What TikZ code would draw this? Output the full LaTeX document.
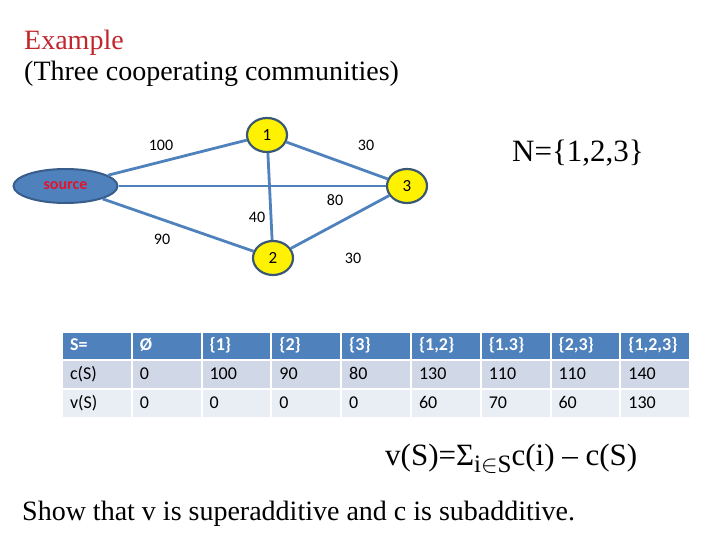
\documentclass[tikz,border=0pt]{standalone}
\usepackage{fontspec}
\setmainfont{Liberation Serif}
\newfontfamily\calfont{Carlito}
\usetikzlibrary{shapes.geometric}
\definecolor{linkblue}{HTML}{4F81BD}
\definecolor{rimblue}{HTML}{385D8A}
\definecolor{rimgrey}{HTML}{3A5874}
\definecolor{hdrblue}{HTML}{4F81BD}
\definecolor{rowa}{HTML}{D0D8E8}
\definecolor{rowb}{HTML}{E9EDF4}
\definecolor{titlered}{HTML}{C0282D}
\definecolor{srcred}{HTML}{E3132C}
\tikzset{
  comm/.style  = {ellipse, draw=rimgrey, fill=yellow, line width=2.2pt, minimum width=40pt,
                  minimum height=34pt, inner sep=0pt, font=\calfont\fontsize{17}{17}\selectfont},
  srcnode/.style={ellipse, draw=rimblue, fill=linkblue, line width=2pt, minimum width=104pt,
                  minimum height=34pt, inner sep=0pt, text=srcred,
                  font=\calfont\bfseries\fontsize{16}{16}\selectfont},
  link/.style  = {draw=linkblue, line width=2.8pt},
  wt/.style    = {font=\calfont\fontsize{16}{16}\selectfont, inner sep=0pt},
  serif/.style = {anchor=base west, inner sep=0pt, font=\fontsize{28}{28}\selectfont},
  cell/.style  = {text width=53.8pt, inner xsep=7pt, inner ysep=0pt, align=left,
                  text height=12.5pt, text depth=3.5pt, font=\calfont\fontsize{18}{18}\selectfont},
  hcell/.style = {cell, fill=hdrblue, text=white, minimum height=26pt,
                  font=\calfont\bfseries\fontsize{18}{18}\selectfont},
  acell/.style = {cell, fill=rowa, minimum height=27pt},
  bcell/.style = {cell, fill=rowb, minimum height=27pt},
}
\begin{document}
\begin{tikzpicture}[x=1pt, y=-1pt]
\useasboundingbox (0,0) rectangle (720,540);
% heading
\node[serif, text=titlered] (ttl) at (24,50) {Example};
\node[serif] (sub) at (24,81) {(Three cooperating communities)};
\node[serif, font=\fontsize{31}{31}\selectfont] (set) at (512,162) {N=\{1,2,3\}};
% network
\node[srcnode] (src) at (65.5,186) {source};
\node[comm] (n1) at (267,135) {1};
\node[comm] (n2) at (273,258) {2};
\node[comm] (n3) at (407,186) {3};
\draw[link] (src) -- (n1); \draw[link] (src) -- (n3); \draw[link] (src) -- (n2);
\draw[link] (n1) -- (n3); \draw[link] (n1) -- (n2); \draw[link] (n2) -- (n3);
\node[wt] (w1) at (161,145) {100};
\node[wt] (w2) at (366,145) {30};
\node[wt] (w3) at (335,200) {80};
\node[wt] (w4) at (257,217) {40};
\node[wt] (w5) at (162,239) {90};
\node[wt] (w6) at (353,258) {30};
% table
\foreach \t [count=\i] in {S=, Ø, \{1\}, \{2\}, \{3\}, {\{1,2\}}, \{1.3\}, {\{2,3\}}, {\{1,2,3\}}}
  \node[hcell] (h\i) at ({27.1+69.8*\i},346) {\t};
\foreach \t [count=\i] in {c(S), 0, 100, 90, 80, 130, 110, 110, 140}
  \node[acell] (c\i) at ({27.1+69.8*\i},374.5) {\t};
\foreach \t [count=\i] in {v(S), 0, 0, 0, 0, 60, 70, 60, 130}
  \node[bcell] (v\i) at ({27.1+69.8*\i},403.5) {\t};
% formula and task
\node[serif, font=\fontsize{31}{31}\selectfont] (frm) at (385,465)
  {v(S)=Σ\raisebox{-7pt}{\fontsize{25}{25}\selectfont i$\in$S}c(i) – c(S)};
\node[serif] (task) at (22,520) {Show that v is superadditive and c is subadditive.};
\end{tikzpicture}
\end{document}
